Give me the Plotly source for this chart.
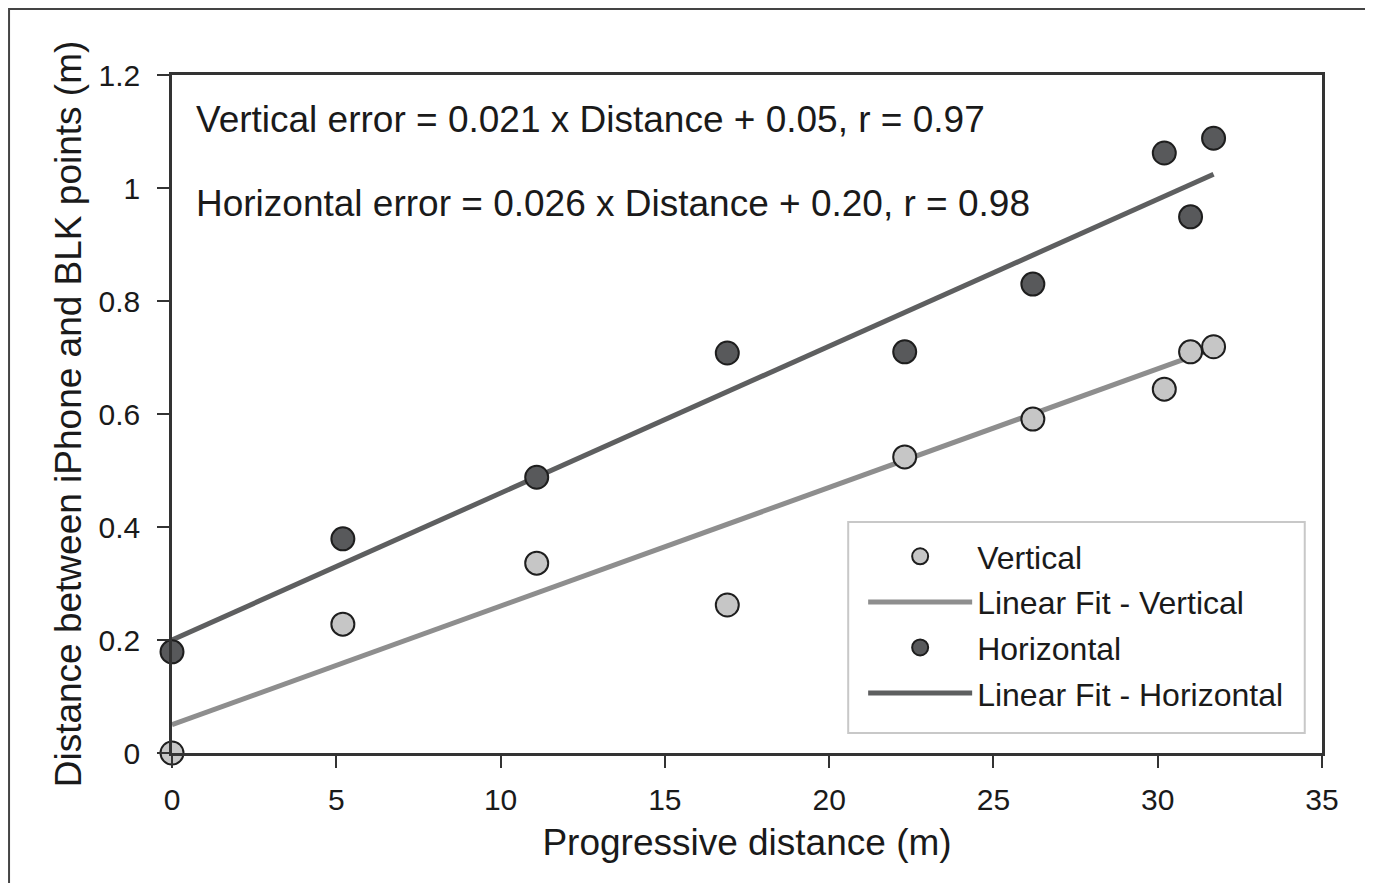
import plotly.graph_objects as go

# Data
dist = [0.0, 5.2, 11.1, 16.9, 22.3, 26.2, 30.2, 31.0, 31.7]
vertical = [0.0, 0.228, 0.336, 0.262, 0.524, 0.591, 0.644, 0.710, 0.719]
horizontal = [0.179, 0.379, 0.488, 0.708, 0.710, 0.830, 1.062, 0.949, 1.088]

fit_x = [0.0, 31.7]
vert_slope, vert_icpt = 0.021, 0.05
horz_slope, horz_icpt = 0.026, 0.20
vert_fit = [vert_icpt + vert_slope * x for x in fit_x]
horz_fit = [horz_icpt + horz_slope * x for x in fit_x]

x_ticks = [0, 5, 10, 15, 20, 25, 30, 35]
y_ticks = [0, 0.2, 0.4, 0.6, 0.8, 1.0, 1.2]
y_labels = ["0", "0.2", "0.4", "0.6", "0.8", "1", "1.2"]

FONT = "Liberation Sans, Arial, sans-serif"
LIGHT = "#c6c6c6"
DARK = "#58595b"
VLINE = "#8e8e8e"
HLINE = "#5e5f60"

fig = go.Figure()
fig.add_trace(go.Scatter(
    x=fit_x, y=vert_fit, mode="lines", name="Linear Fit - Vertical",
    line=dict(color=VLINE, width=5), legendgroup="b", legendrank=2,
    cliponaxis=False))
fig.add_trace(go.Scatter(
    x=fit_x, y=horz_fit, mode="lines", name="Linear Fit - Horizontal",
    line=dict(color=HLINE, width=5), legendgroup="d", legendrank=4,
    cliponaxis=False))
fig.add_trace(go.Scatter(
    x=dist, y=vertical, mode="markers", name="Vertical",
    marker=dict(size=23, color=LIGHT, line=dict(color="#1e1e1e", width=2)),
    legendgroup="a", legendrank=1, cliponaxis=False))
fig.add_trace(go.Scatter(
    x=dist, y=horizontal, mode="markers", name="Horizontal",
    marker=dict(size=23, color=DARK, line=dict(color="#1e1e1e", width=2)),
    legendgroup="c", legendrank=3, cliponaxis=False))

fig.update_layout(
    width=1365, height=875,
    margin=dict(l=164, r=51, t=67, b=130),
    paper_bgcolor="white", plot_bgcolor="white",
    font=dict(family=FONT, size=30, color="#1a1a1a"),
    showlegend=True,
    legend=dict(
        x=0.601, y=0.3304, xanchor="left", yanchor="top",
        bgcolor="rgba(0,0,0,0)", borderwidth=0,
        font=dict(size=32), itemwidth=104, tracegroupgap=1,
        traceorder="grouped",
    ),
    xaxis=dict(
        range=[0, 35], tickvals=x_ticks, ticks="outside", ticklen=12,
        tickwidth=2, tickcolor="#333", showline=True, linecolor="#333",
        linewidth=2.5, mirror=True, showgrid=False, zeroline=False,
        tickfont=dict(size=30), ticklabelstandoff=6,
        title=dict(text="Progressive distance (m)", font=dict(size=37), standoff=15),
    ),
    yaxis=dict(
        range=[0, 1.2], tickvals=y_ticks, ticktext=y_labels, ticks="outside",
        ticklen=12, tickwidth=2, tickcolor="#333", showline=True,
        linecolor="#333", linewidth=2.5, mirror=True, showgrid=False,
        zeroline=False, tickfont=dict(size=30), ticklabelstandoff=11,
        title=dict(text="Distance between iPhone and BLK points (m)",
                   font=dict(size=37), standoff=6),
    ),
    annotations=[
        dict(x=0.019, y=0.935, xref="paper", yref="paper", xanchor="left",
             yanchor="middle", showarrow=False,
             text="Vertical error = 0.021 x Distance + 0.05, r = 0.97",
             font=dict(size=37)),
        dict(x=0.019, y=0.811, xref="paper", yref="paper", xanchor="left",
             yanchor="middle", showarrow=False,
             text="Horizontal error = 0.026 x Distance + 0.20, r = 0.98",
             font=dict(size=37)),
    ],
    shapes=[
        dict(type="rect", xref="paper", yref="paper",
             x0=-0.1417, x1=1.0391, y0=-0.2, y1=1.0973,
             line=dict(color="#444", width=2), fillcolor="rgba(0,0,0,0)",
             layer="below"),
        dict(type="rect", xref="paper", yref="paper",
             x0=0.588, x1=0.985, y0=0.0295, y1=0.3407,
             line=dict(color="#c8c8c8", width=2), fillcolor="white",
             layer="below"),
    ],
)

fig.write_html("out.html")
